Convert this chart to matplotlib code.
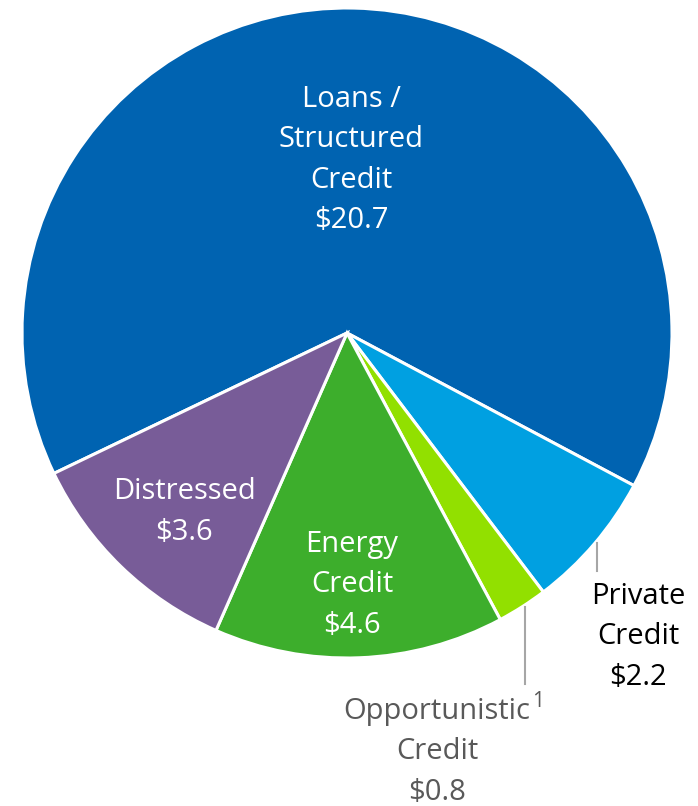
import matplotlib
matplotlib.use("Agg")
import matplotlib.pyplot as plt
import numpy as np

plt.rcParams['font.family'] = ['Open Sans', 'DejaVu Sans']

# data (clockwise from the lower-left edge of the big slice)
categories = ["Loans /\nStructured\nCredit", "Private\nCredit", "Opportunistic\nCredit", "Energy\nCredit", "Distressed"]
values = [20.7, 2.2, 0.8, 4.6, 3.6]
colors = ["#0063B1", "#00A0E1", "#92E000", "#3DAE2C", "#785C98"]

W, H = 698, 806
fig = plt.figure(figsize=(W / 100, H / 100), dpi=100)
ax = fig.add_axes([0, 0, 1, 1])

cx, cy, R = 347, H - 333, 325
start = 205.6
wedges, _ = ax.pie(values, colors=colors, startangle=start, counterclock=False,
                   center=(cx, cy), radius=R,
                   wedgeprops=dict(edgecolor="white", linewidth=2.2))
ax.set_xlim(0, W)
ax.set_ylim(0, H)
ax.set_aspect("equal")
ax.axis("off")

fs = 21
ls = 1.53

def label(i, x, y, color):
    return ax.text(x, H - y, f"{categories[i]}\n${values[i]:.1f}", ha="center", va="center",
                   color=color, fontsize=fs, linespacing=ls)

label(0, 351, 160, "white")
label(4, 184, 512, "white")
label(3, 352, 585, "white")
label(1, 638, 637, "black")

# opportunistic label with footnote marker
gray = "#595959"
t_op = ax.text(437, H - 800, f"{categories[2]}\n${values[2]:.1f}", ha="center", va="baseline",
               color=gray, fontsize=fs, linespacing=ls)
ax.annotate("1", xy=(1, 1), xycoords=t_op, xytext=(1, 4), textcoords="offset points",
            ha="left", va="top", color=gray, fontsize=15)

# leader lines
lc = "#A6A6A6"
ax.plot([597, 597], [H - 543, H - 571], color=lc, lw=1.5)
ax.plot([525, 525], [H - 607, H - 684], color=lc, lw=1.5)

fig.savefig("out.png", dpi=100)
